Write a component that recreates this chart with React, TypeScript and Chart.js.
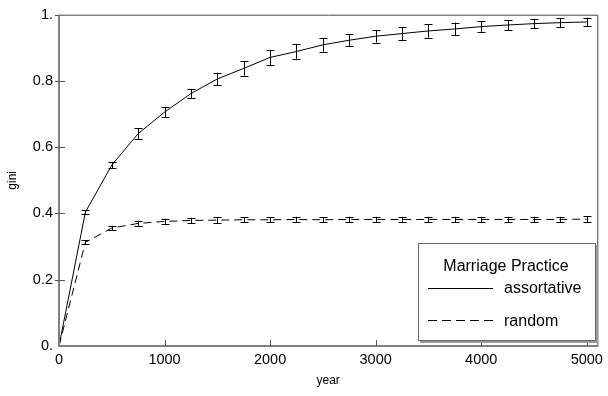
import React, { useEffect, useRef } from "react";
import { Chart, registerables } from "chart.js";

Chart.register(...registerables);

const years = [0, 250, 500, 750, 1000, 1250, 1500, 1750, 2000, 2250, 2500, 2750, 3000, 3250, 3500, 3750, 4000, 4250, 4500, 4750, 5000];
const assortative = [0, 0.404, 0.546, 0.641, 0.706, 0.762, 0.806, 0.838, 0.871, 0.889, 0.909, 0.923, 0.935, 0.943, 0.951, 0.957, 0.964, 0.969, 0.973, 0.976, 0.978];
const assortativeErr = [0, 0.006, 0.01, 0.016, 0.016, 0.014, 0.019, 0.022, 0.023, 0.022, 0.021, 0.018, 0.019, 0.02, 0.02, 0.019, 0.016, 0.015, 0.014, 0.013, 0.013];
const random = [0, 0.313, 0.356, 0.37, 0.376, 0.379, 0.38, 0.381, 0.381, 0.382, 0.381, 0.382, 0.382, 0.382, 0.382, 0.382, 0.382, 0.382, 0.382, 0.382, 0.383];
const randomErr = [0, 0.006, 0.007, 0.008, 0.008, 0.008, 0.008, 0.008, 0.008, 0.008, 0.008, 0.008, 0.008, 0.008, 0.008, 0.008, 0.008, 0.008, 0.008, 0.008, 0.009];
const xTicks = [0, 1000, 2000, 3000, 4000, 5000];
const yTicks = [0, 0.2, 0.4, 0.6, 0.8, 1];
const legendTitle = "Marriage Practice";
const seriesNames = ["assortative", "random"];

const FONT = "'Liberation Sans', Arial, sans-serif";

const framePlugin = {
  id: "frame",
  afterDatasetsDraw(chart: any) {
    const { ctx, chartArea: a, scales } = chart;
    const xs = scales.x, ys = scales.y;
    ctx.save();
    // error bars
    const errs = [assortativeErr, randomErr];
    chart.data.datasets.forEach((ds: any, di: number) => {
      ctx.strokeStyle = "#000";
      ctx.lineWidth = 1;
      ctx.setLineDash([]);
      ds.data.forEach((p: any, i: number) => {
        const e = errs[di][i];
        if (!e) return;
        const x = Math.round(xs.getPixelForValue(p.x)) + 0.5;
        const y1 = ys.getPixelForValue(p.y - e);
        const y2 = ys.getPixelForValue(p.y + e);
        ctx.beginPath();
        ctx.moveTo(x, y1);
        ctx.lineTo(x, y2);
        ctx.moveTo(x - 4, Math.round(y1) + 0.5);
        ctx.lineTo(x + 4, Math.round(y1) + 0.5);
        ctx.moveTo(x - 4, Math.round(y2) + 0.5);
        ctx.lineTo(x + 4, Math.round(y2) + 0.5);
        ctx.stroke();
      });
    });
    // frame: top/right thin dark
    ctx.strokeStyle = "#444";
    ctx.lineWidth = 1;
    ctx.beginPath();
    ctx.moveTo(a.left, a.top + 0.5);
    ctx.lineTo(a.right + 0.5, a.top + 0.5);
    ctx.lineTo(a.right + 0.5, a.bottom);
    ctx.stroke();
    // left / bottom gray thick
    ctx.strokeStyle = "#808080";
    ctx.lineWidth = 2;
    ctx.beginPath();
    ctx.moveTo(a.left, a.top);
    ctx.lineTo(a.left, a.bottom);
    ctx.lineTo(a.right + 1, a.bottom);
    ctx.stroke();
    // inward ticks
    ctx.lineWidth = 1;
    ctx.strokeStyle = "#555";
    ctx.beginPath();
    xTicks.forEach((v) => {
      if (v === 0) return;
      const x = Math.round(xs.getPixelForValue(v)) + 0.5;
      ctx.moveTo(x, a.bottom);
      ctx.lineTo(x, a.bottom - 6);
    });
    yTicks.forEach((v) => {
      if (v === 0 || v === 1) return;
      const y = Math.round(ys.getPixelForValue(v)) + 0.5;
      ctx.moveTo(a.left, y);
      ctx.lineTo(a.left + 6, y);
    });
    ctx.stroke();
    ctx.beginPath();
    yTicks.forEach((v) => {
      if (v === 0) return;
      const y = Math.round(ys.getPixelForValue(v)) + 0.5;
      ctx.moveTo(a.left - 4, y);
      ctx.lineTo(a.left, y);
    });
    ctx.stroke();

    // legend box
    const L = 418, T = 243, R = 596, B = 341;
    ctx.fillStyle = "#fff";
    ctx.fillRect(L, T, R - L, B - T);
    ctx.strokeStyle = "#999";
    ctx.lineWidth = 2;
    ctx.beginPath();
    ctx.moveTo(L + 2, B + 1);
    ctx.lineTo(R + 1, B + 1);
    ctx.lineTo(R + 1, T + 2);
    ctx.stroke();
    ctx.strokeStyle = "#666";
    ctx.lineWidth = 1;
    ctx.strokeRect(L + 0.5, T + 0.5, R - L - 1, B - T - 1);
    ctx.fillStyle = "#000";
    ctx.font = `16px ${FONT}`;
    ctx.textBaseline = "middle";
    ctx.textAlign = "center";
    ctx.fillText(legendTitle, 506, 267);
    ctx.textAlign = "left";
    ctx.fillText(seriesNames[0], 504, 289);
    ctx.fillText(seriesNames[1], 504, 322);
    ctx.strokeStyle = "#000";
    ctx.lineWidth = 1;
    ctx.beginPath();
    ctx.moveTo(428, 288.5);
    ctx.lineTo(493, 288.5);
    ctx.stroke();
    ctx.setLineDash([9, 5]);
    ctx.beginPath();
    ctx.moveTo(428, 320.5);
    ctx.lineTo(493, 320.5);
    ctx.stroke();
    ctx.restore();
  },
};

export default function App() {
  const ref = useRef<HTMLCanvasElement>(null);
  useEffect(() => {
    const chart = new Chart(ref.current!, {
      type: "line",
      data: {
        datasets: [
          {
            label: seriesNames[0],
            data: years.map((x, i) => ({ x, y: assortative[i] })),
            borderColor: "#000",
            borderWidth: 1,
            pointRadius: 0,
            tension: 0,
          },
          {
            label: seriesNames[1],
            data: years.map((x, i) => ({ x, y: random[i] })),
            borderColor: "#000",
            borderWidth: 1,
            borderDash: [8, 5],
            pointRadius: 0,
            tension: 0,
          },
        ],
      },
      options: {
        animation: false,
        responsive: false,
        layout: { padding: { left: 0, right: 6, top: 11, bottom: 0 } },
        plugins: { legend: { display: false }, tooltip: { enabled: false } },
        scales: {
          x: {
            type: "linear",
            min: 0,
            max: 5100,
            afterBuildTicks: (s: any) => {
              s.ticks = xTicks.map((v) => ({ value: v }));
            },
            afterFit: (s: any) => {
              s.height = 50;
            },
            grid: { display: false, drawTicks: false, tickLength: 0 },
            border: { display: false },
            ticks: {
              color: "#000",
              font: { family: FONT, size: 14.5 },
              padding: 5,
              maxRotation: 0,
              callback: (v: any) => String(v),
            },
            title: {
              display: true,
              text: "year",
              color: "#000",
              font: { family: FONT, size: 12 },
              padding: { top: 0, bottom: 8 },
            },
          },
          y: {
            type: "linear",
            min: 0,
            max: 1,
            afterBuildTicks: (s: any) => {
              s.ticks = yTicks.map((v) => ({ value: v }));
            },
            afterFit: (s: any) => {
              s.width = 59;
            },
            grid: { display: false, drawTicks: false, tickLength: 0 },
            border: { display: false },
            ticks: {
              color: "#000",
              font: { family: FONT, size: 14.5 },
              padding: 6,
              callback: (v: any) => (v === 0 ? "0." : v === 1 ? "1." : Number(v).toFixed(1)),
            },
            title: {
              display: true,
              text: "gini",
              color: "#000",
              font: { family: FONT, size: 12 },
              padding: { top: 5, bottom: 0 },
            },
          },
        },
      },
      plugins: [framePlugin],
    } as any);
    return () => chart.destroy();
  }, []);
  return (
    <div style={{ position: "absolute", left: 0, top: 0, width: 608, height: 396 }}>
      <canvas ref={ref} width={608} height={396} style={{ display: "block" }} />
    </div>
  );
}
